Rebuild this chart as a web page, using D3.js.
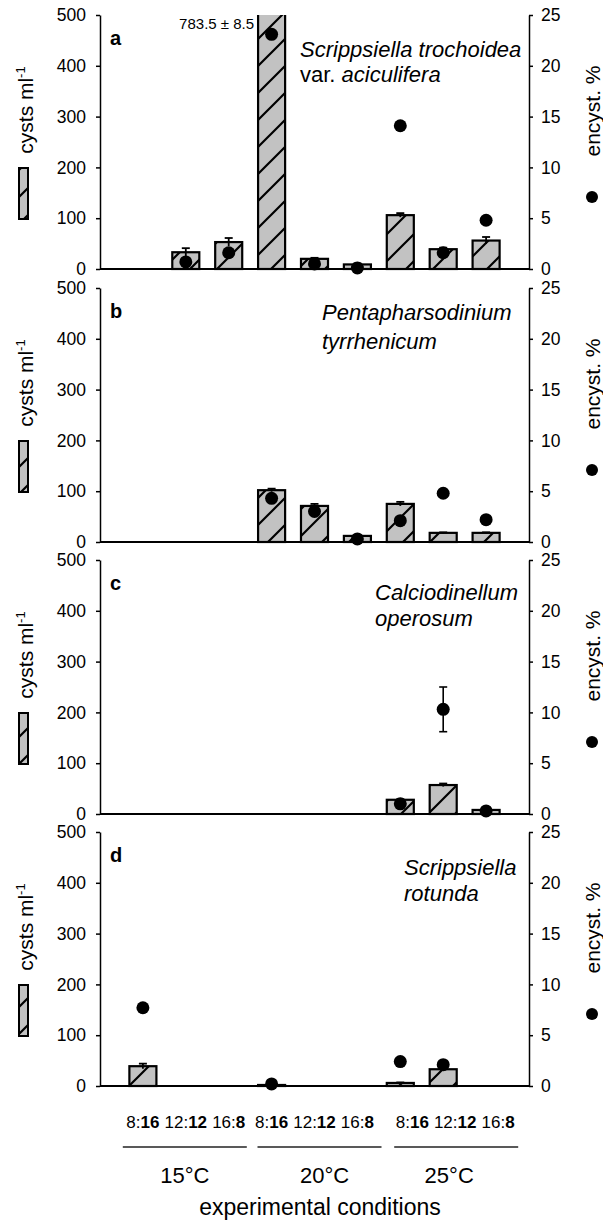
<!DOCTYPE html>
<html>
<head>
<meta charset="utf-8">
<script src="https://cdn.jsdelivr.net/npm/d3@7"></script>
<style>
  body { margin: 0; background: #fff; }
  text { font-family: Arial, "Liberation Sans", Helvetica, sans-serif; fill: #000; }
</style>
</head>
<body>
<svg id="chart" width="603" height="1225"></svg>
<script>
// ---- data ----
const temperatures = ['15°C', '20°C', '25°C'];
const photoperiods = [['8:', '16'], ['12:', '12'], ['16:', '8']];   // light : dark (dark in bold)
const conditions = temperatures.flatMap(t => photoperiods.map(p => t + ' ' + p.join('')));

const cystTicks = [0, 100, 200, 300, 400, 500];
const encystTicks = [0, 5, 10, 15, 20, 25];

const panelLetters = ['a', 'b', 'c', 'd'];
// each line is a list of [text, italic]
const speciesNames = [
    [[['Scrippsiella trochoidea', true]], [['var. ', false], ['aciculifera', true]]],
    [[['Pentapharsodinium', true]], [['tyrrhenicum', true]]],
    [[['Calciodinellum', true]], [['operosum', true]]],
    [[['Scrippsiella', true]], [['rotunda', true]]]
];

// cysts ml-1 (bars) and their errors, per condition
const cystsA    = [null, 33, 53, 783.5, 20, 9, 106, 39, 56];
const cystsErrA = [null, 8, 8, 8.5, 2, 2, 4, 3, 7];
const cystsB    = [null, null, null, 102, 71, 12, 75, 18, 18];
const cystsErrB = [null, null, null, 3, 4, 1, 4, 1, 1];
const cystsC    = [null, null, null, null, null, null, 28, 57, 8];
const cystsErrC = [null, null, null, null, null, null, 1, 3, 1];
const cystsD    = [39, null, null, 2, null, null, 6, 33, null];
const cystsErrD = [5, null, null, 1, null, null, 1, 2, null];

// encystment % (dots)
const encystA = [null, 0.7, 1.6, 23.1, 0.5, 0.1, 14.1, 1.6, 4.8];
const encystB = [null, null, null, 4.3, 3.0, 0.3, 2.1, 4.8, 2.2];
const encystC = [null, null, null, null, null, null, 1.0, 10.3, 0.3];
const encystErrC = [null, null, null, null, null, null, null, 2.2, null];
const encystD = [7.7, null, null, 0.2, null, null, 2.4, 2.1, null];

const panels = [
    { cysts: cystsA, cystsErr: cystsErrA, encyst: encystA, encystErr: [] },
    { cysts: cystsB, cystsErr: cystsErrB, encyst: encystB, encystErr: [] },
    { cysts: cystsC, cystsErr: cystsErrC, encyst: encystC, encystErr: encystErrC },
    { cysts: cystsD, cystsErr: cystsErrD, encyst: encystD, encystErr: [] }
];

// ---- layout ----
const leftX = 100, rightX = 529;
const panelTops = [15, 288, 560, 832];
const panelH = 254;
const speciesX = [300, 322, 375, 404];
const speciesY = [[42, 67], [32, 61], [40, 66], [43, 69]];

const svg = d3.select('#chart');

const x = d3.scaleBand()
    .domain(conditions)
    .range([leftX, rightX])
    .paddingInner(0.37)
    .paddingOuter(0.685);
const bw = x.bandwidth();
const cx = c => x(c) + bw / 2;

// hatch fill for the bars
const defs = svg.append('defs');
const hatch = defs.append('pattern')
    .attr('id', 'hatch')
    .attr('patternUnits', 'userSpaceOnUse')
    .attr('width', 27)
    .attr('height', 27);
hatch.append('rect')
    .attr('width', 27)
    .attr('height', 27)
    .attr('fill', '#c2c2c2');
hatch.append('path')
    .attr('d', 'M-3,30 L30,-3 M-3,3 L3,-3 M24,30 L30,24')
    .attr('stroke', '#000')
    .attr('stroke-width', 2.2);

panels.forEach((p, i) => {
    const top = panelTops[i];
    const bottom = top + panelH;
    const yL = d3.scaleLinear().domain([0, 500]).range([bottom, top]);
    const yR = d3.scaleLinear().domain([0, 25]).range([bottom, top]);

    const g = svg.append('g').attr('class', 'panel-' + panelLetters[i]);

    defs.append('clipPath')
        .attr('id', 'clip-' + i)
        .append('rect')
        .attr('x', leftX)
        .attr('y', top)
        .attr('width', rightX - leftX)
        .attr('height', panelH + 2);

    const plot = g.append('g').attr('clip-path', `url(#clip-${i})`);

    const barData = conditions.map((c, k) => ({ c, v: p.cysts[k], e: p.cystsErr[k] }))
        .filter(d => d.v != null);

    // bars
    plot.selectAll('rect.bar')
        .data(barData)
        .enter()
        .append('rect')
        .attr('class', 'bar')
        .attr('x', d => x(d.c))
        .attr('y', d => yL(d.v))
        .attr('width', bw)
        .attr('height', d => bottom - yL(d.v))
        .attr('fill', 'url(#hatch)')
        .attr('stroke', '#000')
        .attr('stroke-width', 2.2);

    // error bars on the bars
    const errs = barData.filter(d => d.e && d.v + d.e <= 500);
    plot.selectAll('line.err')
        .data(errs)
        .enter()
        .append('line')
        .attr('x1', d => cx(d.c)).attr('x2', d => cx(d.c))
        .attr('y1', d => yL(d.v - d.e)).attr('y2', d => yL(d.v + d.e))
        .attr('stroke', '#000').attr('stroke-width', 1.8);
    plot.selectAll('line.cap')
        .data(errs)
        .enter()
        .append('line')
        .attr('x1', d => cx(d.c) - 4).attr('x2', d => cx(d.c) + 4)
        .attr('y1', d => yL(d.v + d.e)).attr('y2', d => yL(d.v + d.e))
        .attr('stroke', '#000').attr('stroke-width', 1.8);

    // value of the bar that runs off the scale
    barData.filter(d => d.v > 500).forEach(d => {
        g.append('text')
            .attr('x', x(d.c) - 4)
            .attr('y', top + 14)
            .attr('text-anchor', 'end')
            .style('font-size', '15px')
            .text(`${d.v} ± ${d.e}`);
    });

    // dots with optional error bars
    const dotData = conditions.map((c, k) => ({ c, v: p.encyst[k], e: p.encystErr[k] }))
        .filter(d => d.v != null);
    dotData.filter(d => d.e).forEach(d => {
        g.append('line')
            .attr('x1', cx(d.c)).attr('x2', cx(d.c))
            .attr('y1', yR(d.v - d.e)).attr('y2', yR(d.v + d.e))
            .attr('stroke', '#000').attr('stroke-width', 1.6);
        [d.v - d.e, d.v + d.e].forEach(v => {
            g.append('line')
                .attr('x1', cx(d.c) - 4).attr('x2', cx(d.c) + 4)
                .attr('y1', yR(v)).attr('y2', yR(v))
                .attr('stroke', '#000').attr('stroke-width', 1.6);
        });
    });
    g.selectAll('circle.dot')
        .data(dotData)
        .enter()
        .append('circle')
        .attr('class', 'dot')
        .attr('cx', d => cx(d.c))
        .attr('cy', d => yR(d.v))
        .attr('r', 6.5)
        .attr('fill', '#000');

    // axes
    const left = g.append('g')
        .attr('transform', `translate(${leftX},0)`)
        .call(d3.axisLeft(yL).tickValues(cystTicks).tickSize(4).tickSizeOuter(0).tickPadding(10));
    const right = g.append('g')
        .attr('transform', `translate(${rightX},0)`)
        .call(d3.axisRight(yR).tickValues(encystTicks).tickSize(4).tickSizeOuter(0).tickPadding(8));
    [left, right].forEach(a => {
        a.selectAll('path, line').attr('stroke', '#000').attr('stroke-width', 1.5);
        a.selectAll('text').style('font-size', '17.5px').attr('font-family', null);
    });

    // baseline
    g.append('line')
        .attr('x1', leftX).attr('x2', rightX)
        .attr('y1', bottom).attr('y2', bottom)
        .attr('stroke', '#000').attr('stroke-width', 1.8);

    // panel letter
    g.append('text')
        .attr('x', 110)
        .attr('y', top + 30)
        .style('font-size', '20px')
        .style('font-weight', 'bold')
        .text(panelLetters[i]);

    // species name
    speciesNames[i].forEach((line, j) => {
        const t = g.append('text')
            .attr('x', speciesX[i])
            .attr('y', top + speciesY[i][j])
            .style('font-size', '22px');
        line.forEach(([s, it]) => {
            t.append('tspan').style('font-style', it ? 'italic' : 'normal').text(s);
        });
    });

    // left axis title with bar symbol
    const lt = g.append('text')
        .attr('transform', `translate(33,${top + 95}) rotate(-90)`)
        .attr('text-anchor', 'middle')
        .style('font-size', '21px');
    lt.append('tspan').text('cysts ml');
    lt.append('tspan').attr('dy', -8).style('font-size', '13px').text('-1');
    g.append('rect')
        .attr('x', 19)
        .attr('y', top + 153)
        .attr('width', 9)
        .attr('height', 51)
        .attr('fill', 'url(#hatch)')
        .attr('stroke', '#000')
        .attr('stroke-width', 2);

    // right axis title with dot symbol
    g.append('text')
        .attr('transform', `translate(600,${top + 96}) rotate(-90)`)
        .attr('text-anchor', 'middle')
        .style('font-size', '21px')
        .text('encyst. %');
    g.append('circle')
        .attr('cx', 592)
        .attr('cy', top + 182)
        .attr('r', 6)
        .attr('fill', '#000');
});

// ---- x labels ----
const labelShift = [0, 0, 12];
const lineShift = [-1, 5, 13];
const tempShift = [-1, 10, 6];

conditions.forEach((c, k) => {
    const gi = Math.floor(k / 3);
    const pp = photoperiods[k % 3];
    const t = svg.append('text')
        .attr('x', cx(c) + labelShift[gi])
        .attr('y', 1128)
        .attr('text-anchor', 'middle')
        .style('font-size', '17px');
    t.append('tspan').text(pp[0]);
    t.append('tspan').style('font-weight', 'bold').text(pp[1]);
});

temperatures.forEach((temp, gi) => {
    const mid = cx(conditions[gi * 3 + 1]);
    svg.append('line')
        .attr('x1', mid - 62 + lineShift[gi])
        .attr('x2', mid + 62 + lineShift[gi])
        .attr('y1', 1147).attr('y2', 1147)
        .attr('stroke', '#222').attr('stroke-width', 1.5);
    svg.append('text')
        .attr('x', mid + tempShift[gi])
        .attr('y', 1183)
        .attr('text-anchor', 'middle')
        .style('font-size', '22px')
        .text(temp);
});

svg.append('text')
    .attr('x', 320)
    .attr('y', 1215)
    .attr('text-anchor', 'middle')
    .style('font-size', '23px')
    .text('experimental conditions');
</script>
</body>
</html>
